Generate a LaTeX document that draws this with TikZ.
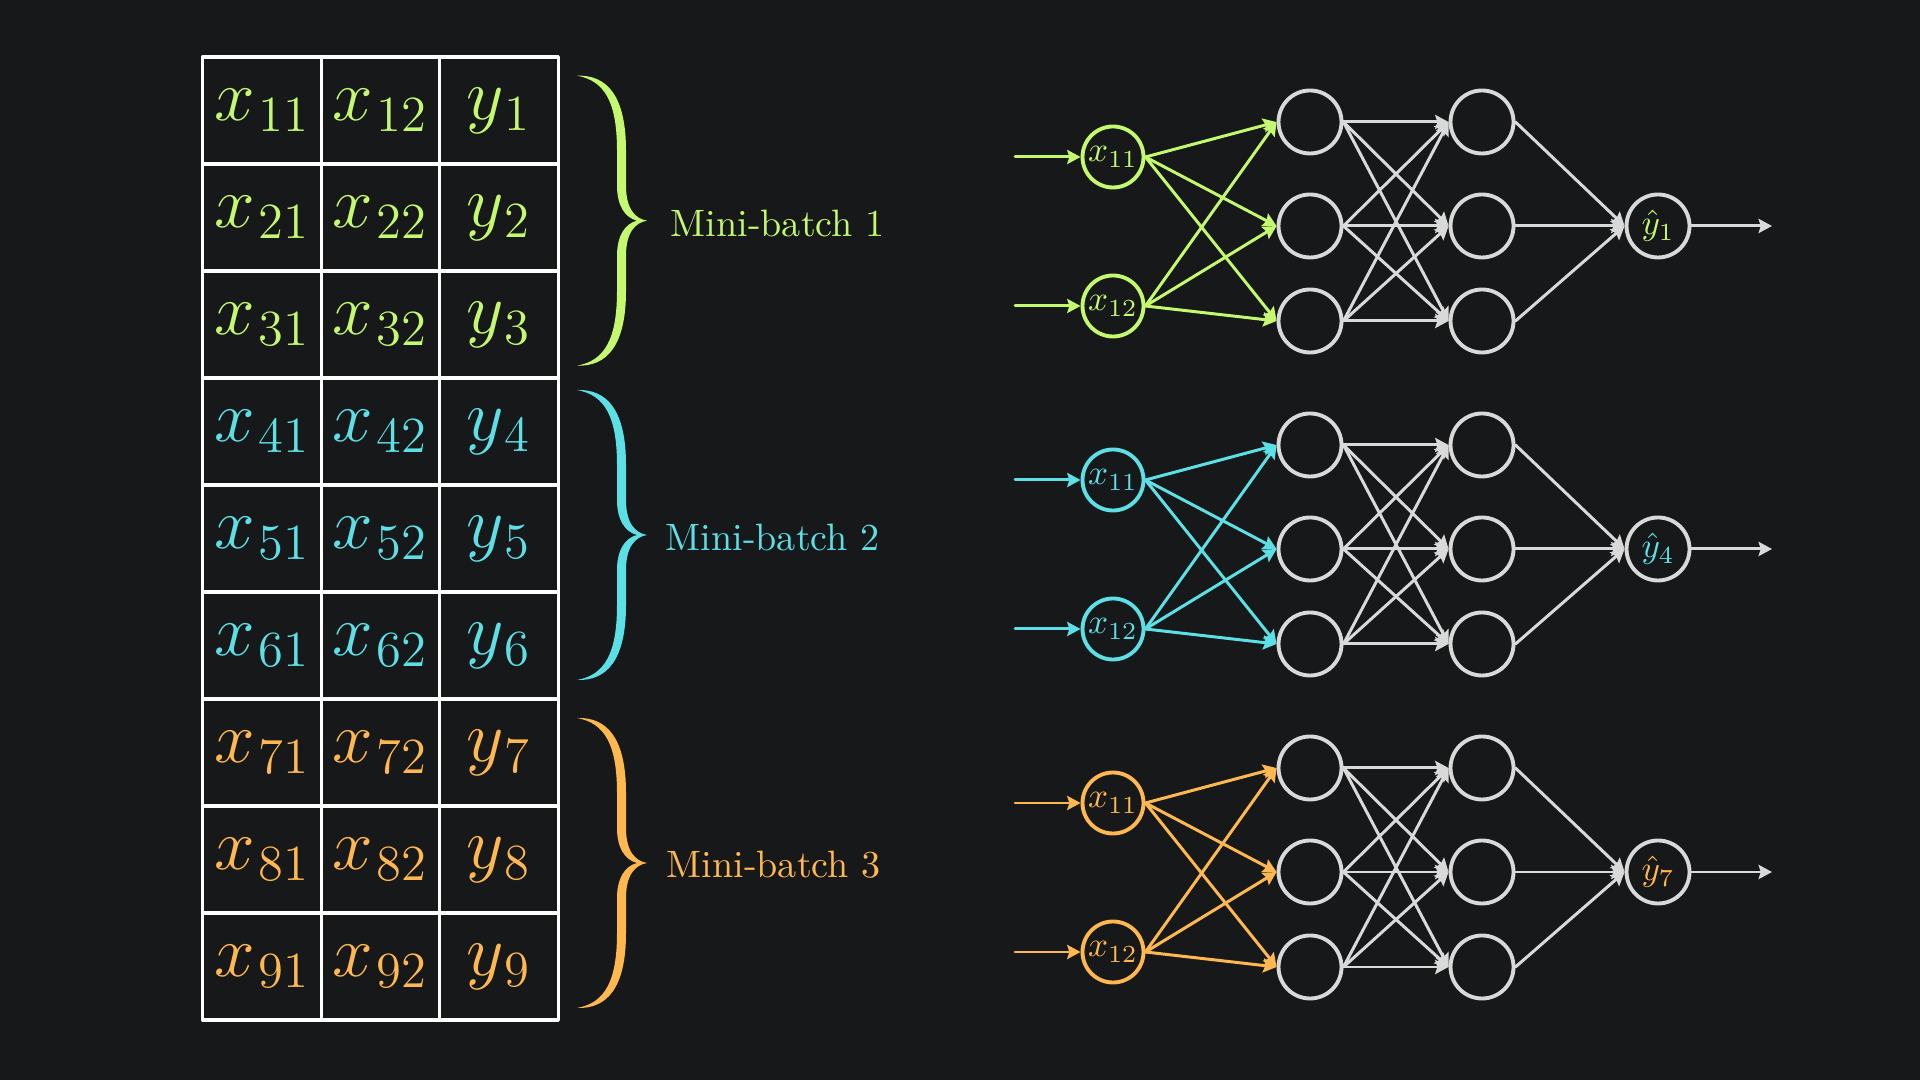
\documentclass[tikz,border=0pt]{standalone}
\usepackage{amsmath}
\usepackage{tikz}
\usetikzlibrary{arrows.meta,positioning,calc}
\definecolor{MBBack}{HTML}{17181A}
\definecolor{MBGreen}{HTML}{C3F86F}
\definecolor{MBCyan}{HTML}{5CE0E6}
\definecolor{MBOrange}{HTML}{FFB84F}
\definecolor{MBGrey}{HTML}{D9D9D9}

\tikzset{
  cell/.style={draw=white,line width=0.95pt,minimum width=1.185cm,
    minimum height=1.07cm,inner sep=0pt,font=\fontsize{20}{24}\selectfont},
  neuron/.style={circle,draw=MBGrey,line width=1.1pt,minimum size=0.63cm,
    inner sep=0pt},
  inneuron/.style={neuron,minimum size=0.61cm},
  link/.style={line width=0.85pt,
    -{Stealth[length=3.8pt,width=4pt,inset=0.6pt]}},
  batchlabel/.style={font=\fontsize{10.85}{13}\selectfont,anchor=base west,
    inner sep=0pt},
  minibrace/.pic={
    \fill (-0.70,1.45) .. controls (-0.40,1.46) and (-0.21,1.25) .. (-0.21,0.70)
      -- (-0.21,0.35) .. controls (-0.21,0.12) and (-0.12,0.02) .. (0,0)
      .. controls (-0.12,-0.02) and (-0.21,-0.12) .. (-0.21,-0.35)
      -- (-0.21,-0.70) .. controls (-0.21,-1.25) and (-0.40,-1.46) .. (-0.70,-1.45)
      .. controls (-0.42,-1.40) and (-0.30,-1.18) .. (-0.30,-0.70)
      -- (-0.30,-0.35) .. controls (-0.30,-0.15) and (-0.22,-0.03) .. (-0.10,0)
      .. controls (-0.22,0.03) and (-0.30,0.15) .. (-0.30,0.35)
      -- (-0.30,0.70) .. controls (-0.30,1.18) and (-0.42,1.40) .. (-0.70,1.45)
      -- cycle;
  }
}

\begin{document}
\begin{tikzpicture}[x=1cm,y=1cm,line cap=round,line join=round]
  \fill[MBBack] (0,0) rectangle (19.2,10.8);
  \path[use as bounding box] (0,0) rectangle (19.2,10.8);

  % Data table, nine rows coloured by mini-batch.
  \foreach \row/\tint in {1/MBGreen,2/MBGreen,3/MBGreen,4/MBCyan,5/MBCyan,
      6/MBCyan,7/MBOrange,8/MBOrange,9/MBOrange}{
    \node[cell,text=\tint] (cell-\row-1) at (2.62,10.765-1.07*\row)
      {$x_{\kern1pt\row1}$};
    \node[cell,text=\tint] (cell-\row-2) at (3.805,10.765-1.07*\row)
      {$x_{\kern1pt\row2}$};
    \node[cell,text=\tint] (cell-\row-3) at (4.99,10.765-1.07*\row)
      {$y_{\kern1pt\row}$};
  }

  % Braces and mini-batch labels.
  \pic[MBGreen] at (6.47,8.593) {minibrace};
  \pic[MBCyan] at (6.47,5.45) {minibrace};
  \pic[MBOrange] at (6.47,2.17) {minibrace};
  \node[batchlabel,text=MBGreen] (batch-1) at (6.70,8.436) {Mini-batch 1};
  \node[batchlabel,text=MBCyan] (batch-2) at (6.65,5.293) {Mini-batch 2};
  \node[batchlabel,text=MBOrange] (batch-3) at (6.66,2.02) {Mini-batch 3};

  % One small network per mini-batch.
  \foreach \g/\tint/\k/\dy in {1/MBGreen/1/0,2/MBCyan/4/-3.23,3/MBOrange/7/-6.46}{
    \begin{scope}[yshift=\dy cm]
      \coordinate (src-\g-a) at (10.15,9.23);
      \coordinate (src-\g-b) at (10.15,7.74);
      \node[inneuron,draw=\tint,text=\tint] (in-\g-a) at (11.13,9.23) {$x_{11}$};
      \node[inneuron,draw=\tint,text=\tint] (in-\g-b) at (11.13,7.74) {$x_{12}$};
      \foreach \i/\hy in {1/9.58,2/8.54,3/7.59}{
        \node[neuron] (h-\g-1-\i) at (13.10,\hy) {};
        \node[neuron] (h-\g-2-\i) at (14.82,\hy) {};
      }
      \node[neuron,text=\tint] (out-\g) at (16.58,8.54) {$\hat{y}_{\k}$};
      \coordinate (sink-\g) at (17.72,8.54);

      \draw[link,\tint] (src-\g-a) -- (in-\g-a);
      \draw[link,\tint] (src-\g-b) -- (in-\g-b);
      \foreach \s in {a,b}
        \foreach \i in {1,2,3}
          \draw[link,\tint] (in-\g-\s.east) -- (h-\g-1-\i.west);
      \foreach \i in {1,2,3}{
        \foreach \j in {1,2,3}
          \draw[link,MBGrey] (h-\g-1-\i.east) -- (h-\g-2-\j.west);
        \draw[link,MBGrey] (h-\g-2-\i.east) -- (out-\g.west);
      }
      \draw[link,MBGrey] (out-\g) -- (sink-\g);
    \end{scope}
  }
\end{tikzpicture}
\end{document}
